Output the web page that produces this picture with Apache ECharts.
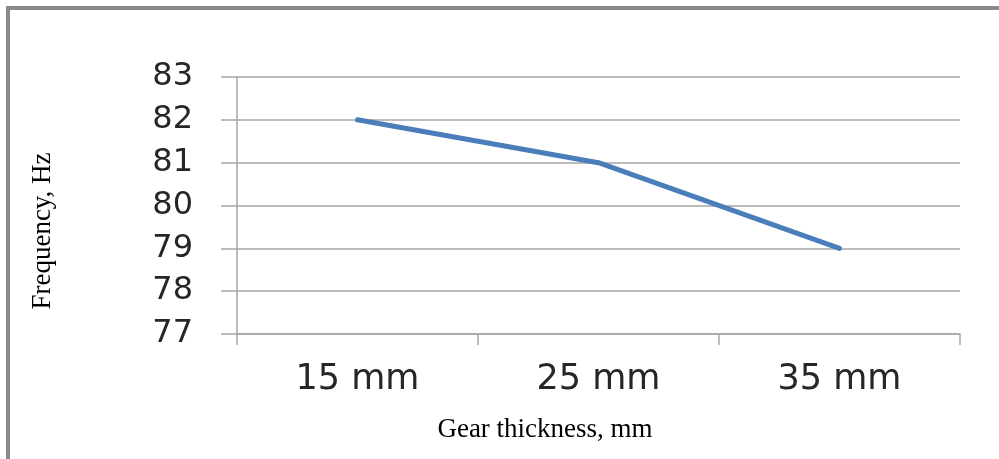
<!DOCTYPE html>
<html lang="en">

<head>
    <meta charset="utf-8">
    <title>Frequency vs gear thickness</title>
    <script type="text/javascript" src="https://cdn.jsdelivr.net/npm/echarts@6/dist/echarts.min.js"></script>
    <style>
        html, body { margin: 0; padding: 0; background: #fff; }
        #chart { width: 999px; height: 459px; }
    </style>
</head>

<body>
    <div id="chart"></div>

    <script>
        // data
        const thickness = ['15 mm', '25 mm', '35 mm'];
        const frequency = [82, 81, 79];
        const yTicks = [77, 78, 79, 80, 81, 82, 83];

        const chart = echarts.init(document.getElementById('chart'));

        const gridColor = '#a6a6a6';

        const option = {
            backgroundColor: '#fff',
            animation: false,
            grid: { left: 237, right: 39, top: 77, bottom: 125 },
            xAxis: {
                type: 'category',
                data: thickness,
                boundaryGap: true,
                axisLine: { lineStyle: { color: gridColor, width: 1.5 } },
                axisTick: { show: true, length: 11, alignWithLabel: false, lineStyle: { color: gridColor, width: 1.5 } },
                axisLabel: {
                    margin: 28,
                    fontFamily: 'DejaVu Sans',
                    fontSize: 35,
                    color: '#262626'
                },
                splitLine: { show: false }
            },
            yAxis: {
                type: 'value',
                min: yTicks[0],
                max: yTicks[yTicks.length - 1],
                interval: 1,
                axisLine: { show: true, lineStyle: { color: gridColor, width: 1.5 } },
                axisTick: { show: true, length: 16, lineStyle: { color: gridColor, width: 1.5 } },
                axisLabel: {
                    margin: 44,
                    fontFamily: 'DejaVu Sans',
                    fontSize: 32,
                    color: '#262626'
                },
                splitLine: { show: true, lineStyle: { color: gridColor, width: 1.5 } }
            },
            series: [{
                type: 'line',
                data: frequency,
                symbol: 'none',
                lineStyle: { color: '#4a7ebb', width: 5, join: 'round', cap: 'round' }
            }],
            graphic: [
                // frame round the figure
                {
                    type: 'line',
                    shape: { x1: 8, y1: 8, x2: 8, y2: 459 },
                    style: { stroke: '#8a8a8a', lineWidth: 4 }
                },
                {
                    type: 'line',
                    shape: { x1: 6, y1: 8, x2: 999, y2: 8 },
                    style: { stroke: '#8a8a8a', lineWidth: 4 }
                },
                {
                    type: 'text',
                    x: 43,
                    y: 231,
                    rotation: Math.PI / 2,
                    style: {
                        text: 'Frequency, Hz',
                        fontFamily: 'Liberation Serif',
                        fontSize: 27,
                        fill: '#000',
                        align: 'center',
                        verticalAlign: 'middle'
                    }
                },
                {
                    type: 'text',
                    x: 545,
                    y: 430,
                    style: {
                        text: 'Gear thickness, mm',
                        fontFamily: 'Liberation Serif',
                        fontSize: 27,
                        fill: '#000',
                        align: 'center',
                        verticalAlign: 'middle'
                    }
                }
            ]
        };

        chart.setOption(option);
    </script>
</body>

</html>
